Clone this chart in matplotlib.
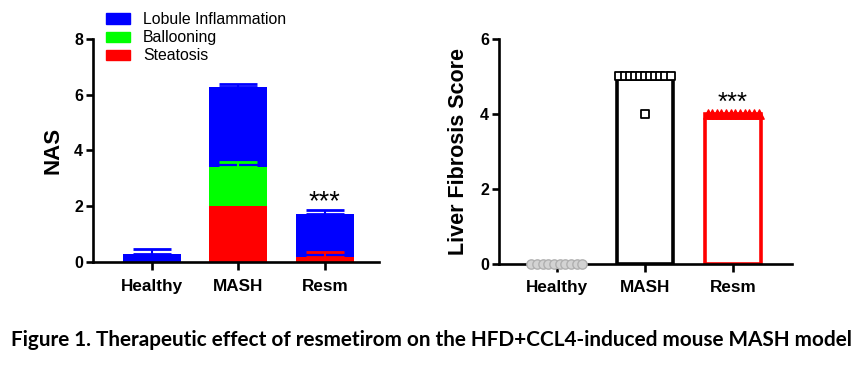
import numpy as np
import matplotlib
matplotlib.use("Agg")
import matplotlib.pyplot as plt
from matplotlib.patches import Patch

plt.rcParams['font.family'] = ['Liberation Sans', 'DejaVu Sans']

# ---------------- data ----------------
groups = ["Healthy", "MASH", "Resm"]
steatosis = [0.0, 2.0, 0.17]
steatosis_err = [0.0, 0.0, 0.18]
ballooning = [0.0, 1.4, 0.0]
ballooning_err = [0.0, 0.18, 0.0]
inflammation = [0.3, 2.88, 1.54]
inflammation_err = [0.17, 0.12, 0.15]

fib_healthy = [0, 0, 0, 0, 0, 0, 0, 0, 0, 0]
fib_mash = [5, 5, 5, 5, 5, 5, 5, 5, 5, 5, 5, 4]
fib_resm = [4, 4, 4, 4, 4, 4, 4, 4, 4, 4, 4, 4]

nas_yticks = [0, 2, 4, 6, 8]
fib_yticks = [0, 2, 4, 6]
caption = "Figure 1. Therapeutic effect of resmetirom on the HFD+CCL4-induced mouse MASH model"

# ---------------- figure ----------------
fig = plt.figure(figsize=(8.6, 3.67), dpi=100)
BLUE, GREEN, RED = "#0000FF", "#00FF00", "#FF0000"
LW = 1.9

def style_axes(ax):
    for s in ["top", "right"]:
        ax.spines[s].set_visible(False)
    for s in ["left", "bottom"]:
        ax.spines[s].set_linewidth(LW)
    ax.tick_params(axis="y", length=5, width=LW, labelsize=11.5, pad=2)
    ax.tick_params(axis="x", length=6, width=LW, labelsize=12.3, pad=6)
    for lab in ax.get_xticklabels() + ax.get_yticklabels():
        lab.set_fontweight("bold")

# ---- left: NAS stacked ----
ax1 = fig.add_axes([0.108, 0.286, 0.333, 0.608])
x = np.arange(len(groups))
w = 0.67
bot1 = np.array(steatosis)
bot2 = bot1 + np.array(ballooning)
top3 = bot2 + np.array(inflammation)

ax1.bar(x, steatosis, w, color=RED, zorder=2)
ax1.bar(x, ballooning, w, bottom=bot1, color=GREEN, zorder=2)
ax1.bar(x, inflammation, w, bottom=bot2, color=BLUE, zorder=2)

def up_err(ax, xs, tops, errs, color):
    for xi, t, e in zip(xs, tops, errs):
        if e <= 0:
            continue
        ax.errorbar([xi], [t], yerr=[[0], [e]], fmt="none", ecolor=color,
                    elinewidth=1.5, capsize=14, capthick=2, zorder=3)

up_err(ax1, x, bot1, steatosis_err, RED)
up_err(ax1, x, bot2, ballooning_err, GREEN)
up_err(ax1, x, top3, inflammation_err, BLUE)

ax1.text(x[2], 1.9, "***", ha="center", va="baseline", fontsize=19.5)

ax1.set_xlim(-0.68, 2.63)
ax1.set_ylim(0, 8)
ax1.set_yticks(nas_yticks)
ax1.set_xticks(x)
ax1.set_xticklabels(groups)
ax1.set_ylabel("NAS", fontsize=16, fontweight="bold", labelpad=8)
style_axes(ax1)

handles = [Patch(color=BLUE), Patch(color=GREEN), Patch(color=RED)]
fig.legend(handles, ["Lobule Inflammation", "Ballooning", "Steatosis"],
           loc="upper left", bbox_to_anchor=(0.123, 0.967), frameon=False,
           fontsize=11.4, handlelength=1.52, handleheight=0.63,
           handletextpad=0.82, labelspacing=0.2, borderaxespad=0, borderpad=0)

# ---- right: fibrosis ----
ax2 = fig.add_axes([0.580, 0.2815, 0.341, 0.6125])
fib = [fib_healthy, fib_mash, fib_resm]
means = [np.mean(v) for v in fib]
edgecols = ["#BBBBBB", "black", RED]
w2 = 0.64
for i, (m, ec) in enumerate(zip(means, edgecols)):
    if m > 0:
        ax2.bar(i, m, w2, facecolor="white", edgecolor=ec, linewidth=2.6, zorder=2)

def spread(vals, center, width):
    vals = np.array(vals, dtype=float)
    xs = np.zeros_like(vals)
    for v in np.unique(vals):
        idx = np.where(vals == v)[0]
        n = len(idx)
        if n == 1:
            xs[idx] = center
        else:
            xs[idx] = center + np.linspace(-width / 2, width / 2, n)
    return xs, vals

xs, ys = spread(fib_healthy, 0, 0.58)
ax2.scatter(xs, ys, s=45, marker="o", facecolor="#D3D3D3", edgecolor="#B0B0B0",
            linewidth=1, zorder=4, clip_on=False)
xs, ys = spread(fib_mash, 1, 0.58)
ax2.scatter(xs, ys, s=40, marker="s", facecolor="white", edgecolor="black",
            linewidth=1.3, zorder=4, clip_on=False)
xs, ys = spread(fib_resm, 2, 0.58)
ax2.scatter(xs, ys, s=45, marker="^", facecolor=RED, edgecolor=RED,
            linewidth=1, zorder=4, clip_on=False)

ax2.text(2, 4.1, "***", ha="center", va="baseline", fontsize=18.5)

ax2.set_xlim(-0.66, 2.67)
ax2.set_ylim(0, 6)
ax2.set_yticks(fib_yticks)
ax2.set_xticks(range(3))
ax2.set_xticklabels(groups)
ax2.set_ylabel("Liver Fibrosis Score", fontsize=15.5, fontweight="bold", labelpad=8)
style_axes(ax2)

fig.text(0.502, 0.073, caption, ha="center", va="center", fontsize=14.95,
         fontweight="bold", family=["Lato", "DejaVu Sans"])

fig.savefig("out.png", dpi=100)
